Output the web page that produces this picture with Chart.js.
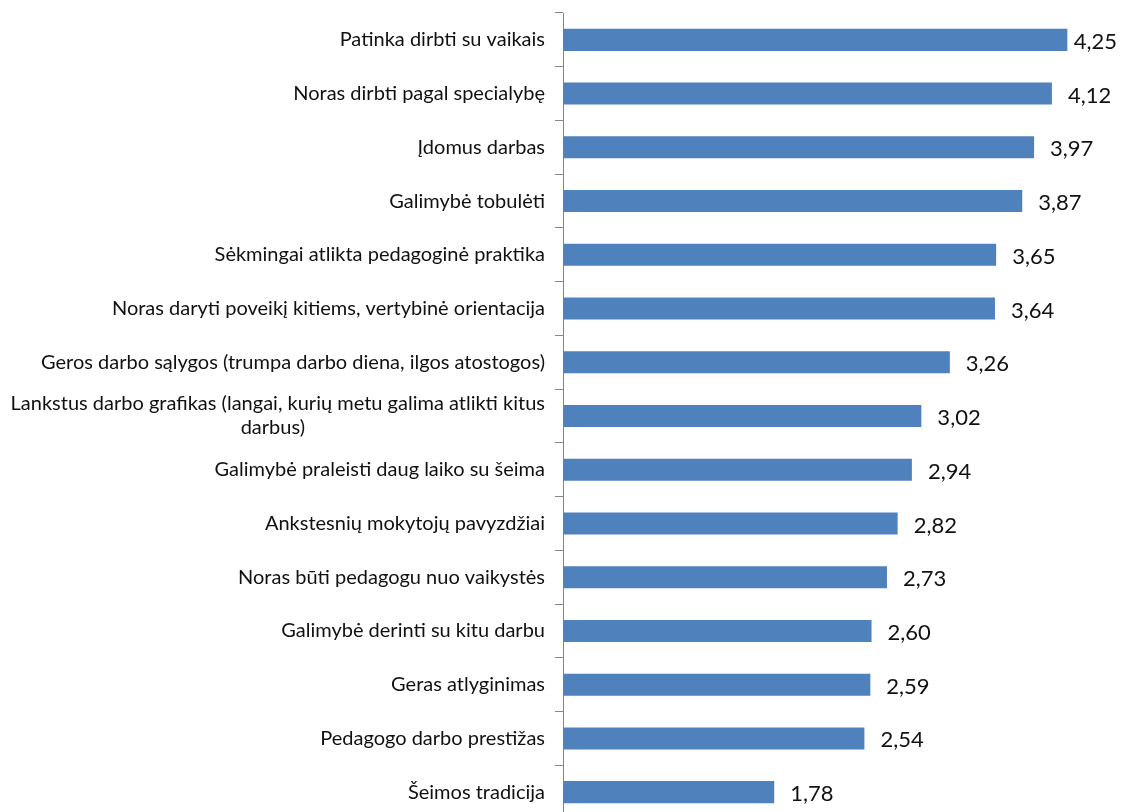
<!DOCTYPE html>
<html>
<head>
<meta charset="utf-8">
<script src="https://cdn.jsdelivr.net/npm/chart.js@4.4.0/dist/chart.umd.min.js"></script>
<style>
  html, body { margin: 0; padding: 0; background: #ffffff; overflow: hidden; }
  #wrap { position: absolute; left: 0; top: 0; width: 1121px; height: 830px; }
</style>
</head>
<body>
<div id="wrap"><canvas id="c"></canvas></div>
<script>
const categories = [
  'Patinka dirbti su vaikais',
  'Noras dirbti pagal specialybę',
  'Įdomus darbas',
  'Galimybė tobulėti',
  'Sėkmingai atlikta pedagoginė praktika',
  'Noras daryti poveikį kitiems, vertybinė orientacija',
  'Geros darbo sąlygos (trumpa darbo diena, ilgos atostogos)',
  'Lankstus darbo grafikas (langai, kurių metu galima atlikti kitus darbus)',
  'Galimybė praleisti daug laiko su šeima',
  'Ankstesnių mokytojų pavyzdžiai',
  'Noras būti pedagogu nuo vaikystės',
  'Galimybė derinti su kitu darbu',
  'Geras atlyginimas',
  'Pedagogo darbo prestižas',
  'Šeimos tradicija'
];
const values = [4.25, 4.12, 3.97, 3.87, 3.65, 3.64, 3.26, 3.02, 2.94, 2.82, 2.73, 2.60, 2.59, 2.54, 1.78];

const LABEL_SIZE = 20;
const LABEL_FONT = LABEL_SIZE + 'px Lato';
const VALUE_FONT = '22px Lato';
const measureCtx = document.createElement('canvas').getContext('2d');

function wrapCentered(text, maxW) {
  measureCtx.font = LABEL_FONT;
  const words = text.split(' ');
  const lines = [];
  let cur = '';
  for (const w of words) {
    const t = cur ? cur + ' ' + w : w;
    if (measureCtx.measureText(t).width > maxW && cur) { lines.push(cur); cur = w; }
    else cur = t;
  }
  lines.push(cur);
  if (lines.length === 1) return lines[0];
  const widest = Math.max(...lines.map(l => measureCtx.measureText(l).width));
  const spaceW = measureCtx.measureText('\u2002').width;
  return lines.map(l => {
    const pad = (widest - measureCtx.measureText(l).width) / 2;
    return l + '\u2002'.repeat(Math.round(pad / spaceW));
  });
}

const valueLabels = {
  id: 'valueLabels',
  afterDatasetsDraw(chart) {
    const ctx = chart.ctx;
    const meta = chart.getDatasetMeta(0);
    ctx.save();
    ctx.font = VALUE_FONT;
    ctx.fillStyle = '#111111';
    ctx.textBaseline = 'middle';
    ctx.textAlign = 'left';
    meta.data.forEach((bar, i) => {
      const txt = values[i].toFixed(2).replace('.', ',');
      const w = ctx.measureText(txt).width;
      let x = bar.x + 16;
      const limit = chart.width - 4 - w;
      if (x > limit) x = Math.max(bar.x + 4, limit);
      ctx.fillText(txt, x, bar.y + 2);
    });
    ctx.restore();
  }
};

new Chart(document.getElementById('c'), {
  type: 'bar',
  data: {
    labels: categories,
    datasets: [{
      data: values,
      backgroundColor: '#4F81BD',
      borderWidth: 0,
      categoryPercentage: 1,
      barPercentage: 0.41
    }]
  },
  options: {
    indexAxis: 'y',
    responsive: true,
    maintainAspectRatio: false,
    animation: false,
    layout: { padding: { top: 13, bottom: 11, left: 0, right: 24 } },
    plugins: { legend: { display: false }, tooltip: { enabled: false } },
    scales: {
      x: { display: false, min: 0, max: 4.5 },
      y: {
        afterFit(scale) { scale.width = 563; scale.paddingTop = 0; scale.paddingBottom = 0; },
        border: { display: true, color: '#868686', width: 1 },
        grid: { offset: true, drawOnChartArea: false, drawTicks: true, tickLength: 8, color: '#868686' },
        ticks: {
          padding: 10,
          color: '#111111',
          font: { family: 'Lato', size: LABEL_SIZE },
          autoSkip: false,
          callback(value, index) { return wrapCentered(categories[index], 542); }
        }
      }
    }
  },
  plugins: [valueLabels]
});
</script>
</body>
</html>
